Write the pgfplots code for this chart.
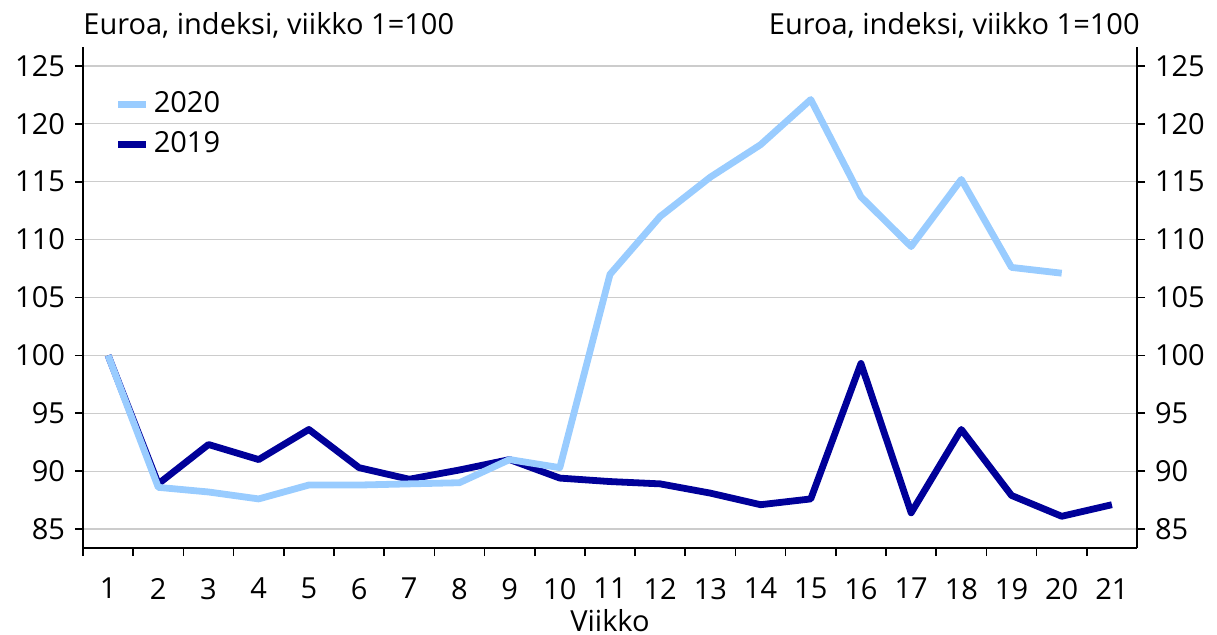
\documentclass[border=0pt]{standalone}
\usepackage{pgfplots}
\pgfplotsset{compat=1.18}
\usepackage{fontspec}
\setmainfont{Open Sans}
\definecolor{light}{HTML}{99CCFF}
\definecolor{dark}{HTML}{000099}
\begin{document}
\fontsize{14.5}{17}\selectfont
\begin{tikzpicture}
\path[use as bounding box] (-41.5pt,-43pt) rectangle (567pt,274pt);
\pgfplotsset{
  base/.style={
    scale only axis, width=527pt, height=250.5pt,
    at={(0,0)}, anchor=south west,
    xmin=0.5, xmax=21.5, ymin=83.36, ymax=126.64,
    ytick={85,90,...,125},
    tick align=outside,
    major tick length=4pt, minor tick length=4pt,
    /pgf/number format/assume math mode=true,
    tick label style={font=\fontsize{14.5}{17}\selectfont},
    axis line style={line width=0.8pt},
    every tick/.style={black, line width=0.8pt},
  }
}
\begin{axis}[base, name=main,
  axis x line*=bottom, axis y line*=left,
  xtick={1,...,21},
  minor xtick={0.5,1.5,...,20.5},
  major x tick style={draw=none},
  xticklabel style={yshift=-6pt},
  ymajorgrids, major grid style={gray!40, line width=0.6pt},
  xlabel={Viikko},
  xlabel style={font=\fontsize{14.5}{17}\selectfont, yshift=5pt},
  reverse legend,
  legend style={at={(rel axis cs:0.03,0.92)}, anchor=north west, draw=none, fill=none,
    font=\fontsize{14.5}{17}\selectfont, row sep=3.5pt, inner sep=0pt},
  legend cell align=left,
  legend image code/.code={\draw[#1, line width=3.4pt] (0pt,0pt) -- (14pt,0pt);},
]
\addplot[dark, line width=3.4pt, line join=round] coordinates {
(1,100) (2,88.9) (3,92.3) (4,91.0) (5,93.6) (6,90.3) (7,89.3) (8,90.1) (9,91.0) (10,89.4)
(11,89.1) (12,88.9) (13,88.1) (14,87.1) (15,87.6) (16,99.3) (17,86.4) (18,93.6) (19,87.9) (20,86.1) (21,87.1)
};
\addlegendentry{2019}
\addplot[light, line width=3.4pt, line join=round] coordinates {
(1,100) (2,88.6) (3,88.2) (4,87.6) (5,88.8) (6,88.8) (7,88.9) (8,89.0) (9,91.0) (10,90.3)
(11,107.0) (12,112.0) (13,115.4) (14,118.2) (15,122.1) (16,113.7) (17,109.4) (18,115.2) (19,107.6) (20,107.1)
};
\addlegendentry{2020}
\end{axis}
\begin{axis}[base,
  axis x line=none, axis y line*=right,
]
\addplot[draw=none] coordinates {(1,100)};
\end{axis}
\node[anchor=base west, inner sep=0pt] at ([yshift=6pt]main.north west) {Euroa, indeksi, viikko 1=100};
\node[anchor=base east, inner sep=0pt] at ([yshift=6pt, xshift=1.5pt]main.north east) {Euroa, indeksi, viikko 1=100};
\end{tikzpicture}
\end{document}
